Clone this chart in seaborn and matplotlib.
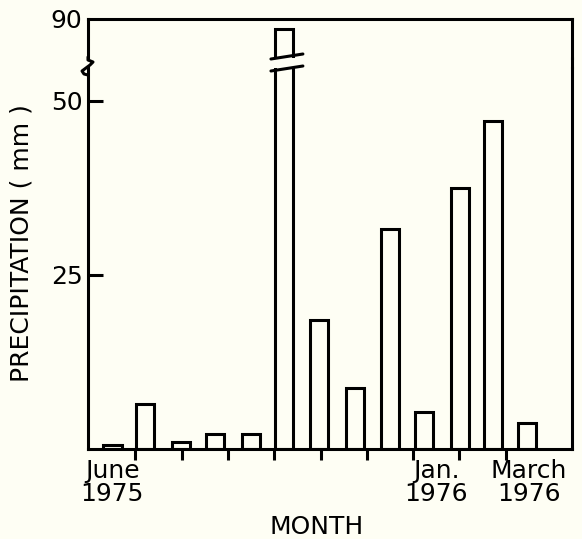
import numpy as np
import pandas as pd
import matplotlib
matplotlib.use("Agg")
import matplotlib.pyplot as plt
import seaborn as sns
from matplotlib.lines import Line2D
from matplotlib.transforms import blended_transform_factory

# ---- data ----
sample_month = [0.51, 1.21, 1.98, 2.72, 3.50, 4.21, 4.97, 5.74, 6.50, 7.23, 8.01, 8.73, 9.46]
precip_mm = [0.6, 6.5, 1.0, 2.2, 2.2, 88.5, 18.5, 8.8, 31.6, 5.3, 37.5, 47.1, 3.7]
month_bounds = [1, 2, 3, 4, 5, 6, 7, 8, 9]
month_label_pos = [0.5, 7.5, 9.5]
month_labels = ["June\n1975", "Jan.\n1976", "March\n1976"]
y_ticks_low = [25, 50]
y_ticks_high = [90]

sns.set_theme(style="ticks")
plt.rcParams['font.family'] = ['DejaVu Sans']

BG = '#fefef4'
W, H = 582, 539
LW = 2.2
FS = 18


def fx(px):
    return px / W


def fy(py):
    return 1 - py / H


fig = plt.figure(figsize=(W / 100, H / 100), dpi=100, facecolor=BG)
ax = fig.add_axes([fx(88), fy(449), fx(572) - fx(88), fy(68) - fy(449)])
axt = fig.add_axes([fx(88), fy(58), fx(572) - fx(88), fy(19) - fy(58)], sharex=ax)

df = pd.DataFrame({"month": sample_month, "precip": precip_mm})

for a in (ax, axt):
    a.set_facecolor(BG)
    sns.barplot(data=df, x="month", y="precip", native_scale=True, width=0.56,
                color=BG, saturation=1, edgecolor='black', linewidth=LW,
                errorbar=None, ax=a)
    a.set_xlabel("")
    a.set_ylabel("")
    for s in a.spines.values():
        s.set_color('black')
        s.set_linewidth(LW)

ax.set_xlim(-0.02, 10.43)
ax.set_ylim(0, 54.7)
axt.set_ylim(84.4, 90)

ax.spines['top'].set_visible(False)
axt.spines['bottom'].set_visible(False)

# bottom axes ticks
ax.set_yticks(y_ticks_low)
ax.set_yticklabels([str(v) for v in y_ticks_low])
ax.tick_params(axis='y', direction='in', length=11, width=LW, color='black',
               labelcolor='black', labelsize=FS, pad=4, left=True, right=False)
ax.set_xticks(month_bounds)
ax.set_xticklabels([])
ax.set_xticks(month_label_pos, minor=True)
ax.set_xticklabels(month_labels, minor=True, fontsize=FS, linespacing=0.95)
ax.tick_params(axis='x', which='major', direction='out', length=8, width=LW,
               color='black', bottom=True)
ax.tick_params(axis='x', which='minor', length=0, pad=7, labelcolor='black',
               labelsize=FS)

# top axes ticks
axt.set_yticks(y_ticks_high)
axt.set_yticklabels([str(v) for v in y_ticks_high])
axt.tick_params(axis='y', length=0, labelcolor='black', labelsize=FS, pad=4)
axt.tick_params(axis='x', which='both', bottom=False, labelbottom=False, length=0)

# break marks on the tall bar
ib = int(np.argmax(precip_mm))
xb = sample_month[ib]
trt = blended_transform_factory(axt.transData, axt.transAxes)
axt.add_line(Line2D([xb - 0.28, xb + 0.41], [-1 / 39, 4 / 39], transform=trt,
                    color='black', lw=LW, clip_on=False, solid_capstyle='round'))
trb = blended_transform_factory(ax.transData, ax.transAxes)
ax.add_line(Line2D([xb - 0.28, xb + 0.41], [1 - 3 / 381, 1 + 2 / 381], transform=trb,
                   color='black', lw=LW, clip_on=False, solid_capstyle='round'))

# squiggle on the left axis and join on right
sq_x = [88, 88, 93, 90, 82, 84, 88]
sq_y = [57, 60, 62, 65, 71, 74, 75]
fig.add_artist(Line2D([fx(v) for v in sq_x], [fy(v) for v in sq_y],
                      transform=fig.transFigure, color='black', lw=LW,
                      solid_joinstyle='round', solid_capstyle='round'))
fig.add_artist(Line2D([fx(572), fx(572)], [fy(57), fy(69)],
                      transform=fig.transFigure, color='black', lw=LW))

fig.text(fx(22), fy(243), "PRECIPITATION ( mm )", rotation=90, ha='center',
         va='center', fontsize=FS, color='black')
fig.text(fx(317), fy(527), "MONTH", ha='center', va='center', fontsize=FS,
         color='black')

fig.savefig('out.png', dpi=100, facecolor=BG)
